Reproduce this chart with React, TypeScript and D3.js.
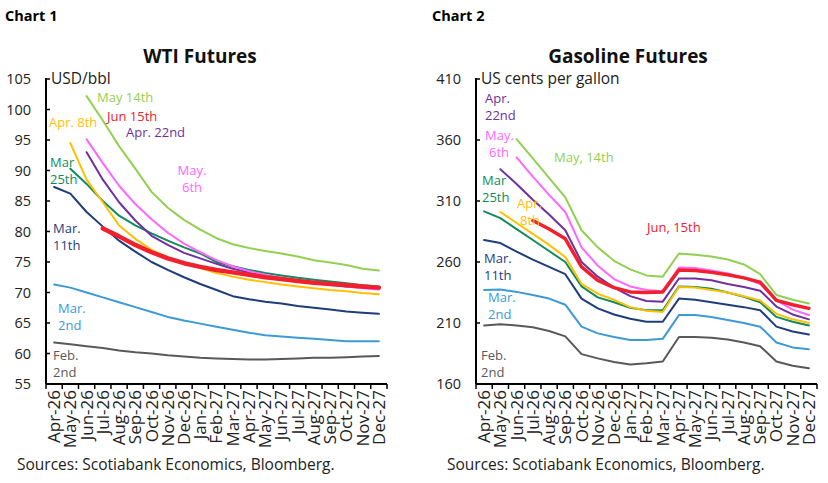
import * as d3 from 'd3';
import React from 'react';

// x categories shared by both panels
const months = [
  'Apr-26', 'May-26', 'Jun-26', 'Jul-26', 'Aug-26', 'Sep-26', 'Oct-26', 'Nov-26', 'Dec-26',
  'Jan-27', 'Feb-27', 'Mar-27', 'Apr-27', 'May-27', 'Jun-27', 'Jul-27', 'Aug-27', 'Sep-27',
  'Oct-27', 'Nov-27', 'Dec-27'
];

// --------------------------------------------------------
// WTI futures curves, USD/bbl
const wtiFeb2 = [61.8, 61.5, 61.2, 60.9, 60.5, 60.2, 60.0, 59.7, 59.5, 59.3, 59.2, 59.1, 59.0, 59.0, 59.1, 59.2, 59.3, 59.3, 59.4, 59.5, 59.6];
const wtiMar2 = [71.3, 70.8, 70.0, 69.2, 68.4, 67.6, 66.8, 66.0, 65.4, 64.9, 64.4, 63.9, 63.4, 63.0, 62.8, 62.6, 62.4, 62.2, 62.0, 62.0, 62.0];
const wtiMar11 = [87.3, 86.2, 83.2, 80.8, 78.5, 76.7, 75.0, 73.7, 72.5, 71.4, 70.4, 69.4, 68.9, 68.5, 68.2, 67.8, 67.5, 67.2, 66.9, 66.7, 66.5];
const wtiMar25 = [null, 90.3, 87.8, 85.0, 82.6, 81.0, 79.7, 78.5, 77.4, 76.4, 75.0, 74.3, 73.7, 73.2, 72.8, 72.4, 72.1, 71.8, 71.5, 71.2, 71.0];
const wtiApr8 = [null, 94.5, 88.5, 84.8, 81.0, 78.8, 77.0, 75.8, 74.9, 74.0, 73.2, 72.6, 72.1, 71.7, 71.3, 71.0, 70.7, 70.4, 70.2, 69.9, 69.7];
const wtiApr22 = [null, null, 93.0, 88.5, 84.8, 81.8, 79.3, 77.8, 76.5, 75.6, 74.7, 73.9, 73.3, 72.8, 72.3, 71.9, 71.6, 71.3, 71.0, 70.8, 70.6];
const wtiMay6 = [null, null, 95.1, 91.2, 87.5, 84.5, 82.0, 79.8, 78.0, 76.6, 75.3, 74.3, 73.5, 72.9, 72.4, 72.0, 71.6, 71.3, 71.0, 70.7, 70.5];
const wtiMay14 = [null, null, 102.2, 98.2, 94.0, 90.3, 86.5, 83.9, 81.9, 80.3, 78.9, 77.9, 77.3, 76.8, 76.4, 75.9, 75.3, 74.9, 74.5, 73.9, 73.6];
const wtiJun15 = [null, null, null, 80.5, 79.2, 77.8, 76.6, 75.6, 74.8, 74.2, 73.7, 73.3, 72.9, 72.5, 72.2, 71.9, 71.6, 71.4, 71.2, 71.0, 70.8];

// --------------------------------------------------------
// RBOB gasoline futures curves, US cents per gallon
const gasFeb2 = [208, 209, 208, 206.5, 203.5, 199, 184.5, 181, 178, 176, 177, 178.5, 198.5, 198.5, 198, 196.5, 194, 191, 178.5, 175, 173];
const gasMar2 = [237, 237.5, 235.5, 233, 230, 225, 207, 201.5, 198.5, 196, 196, 197, 216.5, 216.5, 215, 212.5, 210, 207, 194, 190, 188.5];
const gasMar11 = [278, 275.5, 268.5, 262, 256, 250, 230, 222, 217, 213.5, 211, 211, 230, 229, 227, 225, 223, 220.5, 207, 203, 200.5];
const gasMar25 = [301.5, 296, 287, 278, 269, 260, 240, 231, 227, 222.5, 220.5, 220.5, 240, 239.5, 238, 235, 231.5, 227, 215, 211, 208];
const gasApr8 = [null, 301, 292, 283, 274, 264, 242, 234, 229, 223, 220, 219, 239.5, 239, 237, 235, 232, 228.5, 217.5, 213, 210];
const gasApr22 = [null, 336, 324, 311, 299, 286, 260, 248, 239, 232, 228, 227.5, 246.5, 246.5, 245, 242, 239.5, 236.5, 223.5, 217, 213];
const gasMay6 = [null, null, 345.7, 330, 315, 301, 272, 257, 246, 240, 237, 236, 255.5, 255, 253, 250.5, 247, 242, 228.5, 221, 216.5];
const gasMay14 = [null, null, 360.7, 345, 329, 313, 286, 272, 261, 254, 249, 248, 267, 266, 264.5, 262, 258, 250, 233, 229, 226];
const gasJun15 = [null, null, null, 294, 287, 279, 256, 245, 239, 235.5, 235, 235.5, 253.5, 253, 251.5, 249.5, 247, 243.5, 228.5, 225, 222];

const wtiTicks = [55, 60, 65, 70, 75, 80, 85, 90, 95, 100, 105];
const gasTicks = [160, 210, 260, 310, 360, 410];

const colors = {
  feb2: '#595959',
  mar2: '#3d9ad6',
  mar11: '#1f3d7a',
  mar25: '#138a5c',
  apr8: '#ffc000',
  apr22: '#7030a0',
  may6: '#ff66ff',
  may14: '#92d050',
  jun15: '#f0202e'
};

const FONT = '"Open Sans", Roboto, sans-serif';

// --------------------------------------------------------
// one chart panel: axes, curves, inline series labels
function Panel({ left, title, titleX, unit, domain, ticks, series, labels, chartName, chartX }) {
  const right = left + 341;
  const top = 79;
  const bottom = 384;

  const x = d3.scaleBand().domain(months).range([left, right]);
  const y = d3.scaleLinear().domain(domain).range([bottom, top]);

  const line = d3.line()
    .defined(d => d != null)
    .x((d, i) => x(months[i]) + x.bandwidth() / 2)
    .y(d => y(d));

  return (
    <g>
      <text x={chartX} y={21} fontSize={14.5} fontWeight={700} fill="#000">{chartName}</text>
      <text x={titleX} y={63} fontSize={19} fontWeight={700} textAnchor="middle" fill="#111">{title}</text>
      <text x={left + 5} y={84} fontSize={15.5} fill="#222">{unit}</text>

      {/* y axis */}
      <line x1={left} x2={left} y1={top - 1} y2={bottom} stroke="#000" strokeWidth={2} />
      {ticks.map(t => (
        <g key={t}>
          <line x1={left} x2={left + 4} y1={y(t)} y2={y(t)} stroke="#000" strokeWidth={1.5} />
          <text x={left - 15} y={y(t)} dy="0.35em" textAnchor="end" fontSize={14.5} fill="#222">{t}</text>
        </g>
      ))}

      {/* x axis */}
      <line x1={left} x2={right} y1={bottom} y2={bottom} stroke="#000" strokeWidth={2} />
      {months.map(m => (
        <line key={'t' + m} x1={x(m)} x2={x(m)} y1={bottom} y2={bottom + 5} stroke="#000" strokeWidth={1.5} />
      ))}
      <line x1={right} x2={right} y1={bottom} y2={bottom + 5} stroke="#000" strokeWidth={1.5} />
      {months.map(m => (
        <text
          key={'l' + m}
          transform={`translate(${x(m) + x.bandwidth() / 2},${bottom + 6}) rotate(-90)`}
          dy="0.35em"
          textAnchor="end"
          fontSize={17}
          fill="#222"
        >{m}</text>
      ))}

      {/* curves */}
      {series.map(s => (
        <path key={s.key} d={line(s.values)} fill="none" stroke={s.color}
          strokeWidth={s.width} strokeLinejoin="round" strokeLinecap="round" />
      ))}

      {/* inline labels */}
      {labels.map((l, i) => (
        <text key={i} x={l.x} y={l.y} fontSize={13} fill={l.color} textAnchor={l.anchor || 'start'}>
          {l.lines.map((t, j) => (
            <tspan key={j} x={l.x + (l.dx ? l.dx[j] : 0)} dy={j === 0 ? 0 : 17}>{t}</tspan>
          ))}
        </text>
      ))}

      <text x={left - 29} y={470} fontSize={15.5} fill="#222">Sources: Scotiabank Economics, Bloomberg.</text>
    </g>
  );
}

export default function App() {
  const wtiSeries = [
    { key: 'feb2', values: wtiFeb2, color: colors.feb2, width: 2 },
    { key: 'mar2', values: wtiMar2, color: colors.mar2, width: 2 },
    { key: 'mar11', values: wtiMar11, color: colors.mar11, width: 2 },
    { key: 'mar25', values: wtiMar25, color: colors.mar25, width: 2 },
    { key: 'apr8', values: wtiApr8, color: colors.apr8, width: 2 },
    { key: 'apr22', values: wtiApr22, color: colors.apr22, width: 2 },
    { key: 'may6', values: wtiMay6, color: colors.may6, width: 2 },
    { key: 'may14', values: wtiMay14, color: colors.may14, width: 2 },
    { key: 'jun15', values: wtiJun15, color: colors.jun15, width: 4.5 }
  ];
  const gasSeries = [
    { key: 'feb2', values: gasFeb2, color: colors.feb2, width: 2 },
    { key: 'mar2', values: gasMar2, color: colors.mar2, width: 2 },
    { key: 'mar11', values: gasMar11, color: colors.mar11, width: 2 },
    { key: 'mar25', values: gasMar25, color: colors.mar25, width: 2 },
    { key: 'apr8', values: gasApr8, color: colors.apr8, width: 2 },
    { key: 'apr22', values: gasApr22, color: colors.apr22, width: 2 },
    { key: 'may6', values: gasMay6, color: colors.may6, width: 2 },
    { key: 'may14', values: gasMay14, color: colors.may14, width: 2 },
    { key: 'jun15', values: gasJun15, color: colors.jun15, width: 3.5 }
  ];

  const wtiLabels = [
    { x: 97, y: 102, lines: ['May 14th'], color: colors.may14 },
    { x: 107, y: 121, lines: ['Jun 15th'], color: colors.jun15 },
    { x: 126, y: 137, lines: ['Apr. 22nd'], color: colors.apr22 },
    { x: 49, y: 127, lines: ['Apr. 8th'], color: colors.apr8 },
    { x: 50, y: 167, lines: ['Mar', '25th'], color: colors.mar25 },
    { x: 192, y: 175, lines: ['May.', '6th'], color: colors.may6, anchor: 'middle' },
    { x: 53, y: 233, lines: ['Mar.', '11th'], color: colors.mar11 },
    { x: 58, y: 313, lines: ['Mar.', '2nd'], color: colors.mar2 },
    { x: 53, y: 360, lines: ['Feb.', '2nd'], color: colors.feb2 }
  ];
  const gasLabels = [
    { x: 485, y: 103, lines: ['Apr.', '22nd'], color: colors.apr22 },
    { x: 485, y: 140, lines: ['May.', '6th'], color: colors.may6, dx: [0, 4] },
    { x: 554, y: 162, lines: ['May, 14th'], color: colors.may14 },
    { x: 482, y: 185, lines: ['Mar', '25th'], color: colors.mar25 },
    { x: 517, y: 208, lines: ['Apr.', '8th'], color: colors.apr8, dx: [0, 3] },
    { x: 647, y: 232, lines: ['Jun, 15th'], color: colors.jun15 },
    { x: 484, y: 263, lines: ['Mar.', '11th'], color: colors.mar11 },
    { x: 488, y: 302, lines: ['Mar.', '2nd'], color: colors.mar2 },
    { x: 481, y: 360, lines: ['Feb.', '2nd'], color: colors.feb2 }
  ];

  return (
    <div style={{ position: 'absolute', left: 0, top: 0 }}>
      <svg width={828} height={483} style={{ display: 'block', background: '#fff', fontFamily: FONT }}>
        <Panel left={46} chartName="Chart 1" chartX={5} title="WTI Futures" titleX={200} unit="USD/bbl"
          domain={[55, 105]} ticks={wtiTicks} series={wtiSeries} labels={wtiLabels} />
        <Panel left={476} chartName="Chart 2" chartX={432} title="Gasoline Futures" titleX={628} unit="US cents per gallon"
          domain={[160, 410]} ticks={gasTicks} series={gasSeries} labels={gasLabels} />
      </svg>
    </div>
  );
}
